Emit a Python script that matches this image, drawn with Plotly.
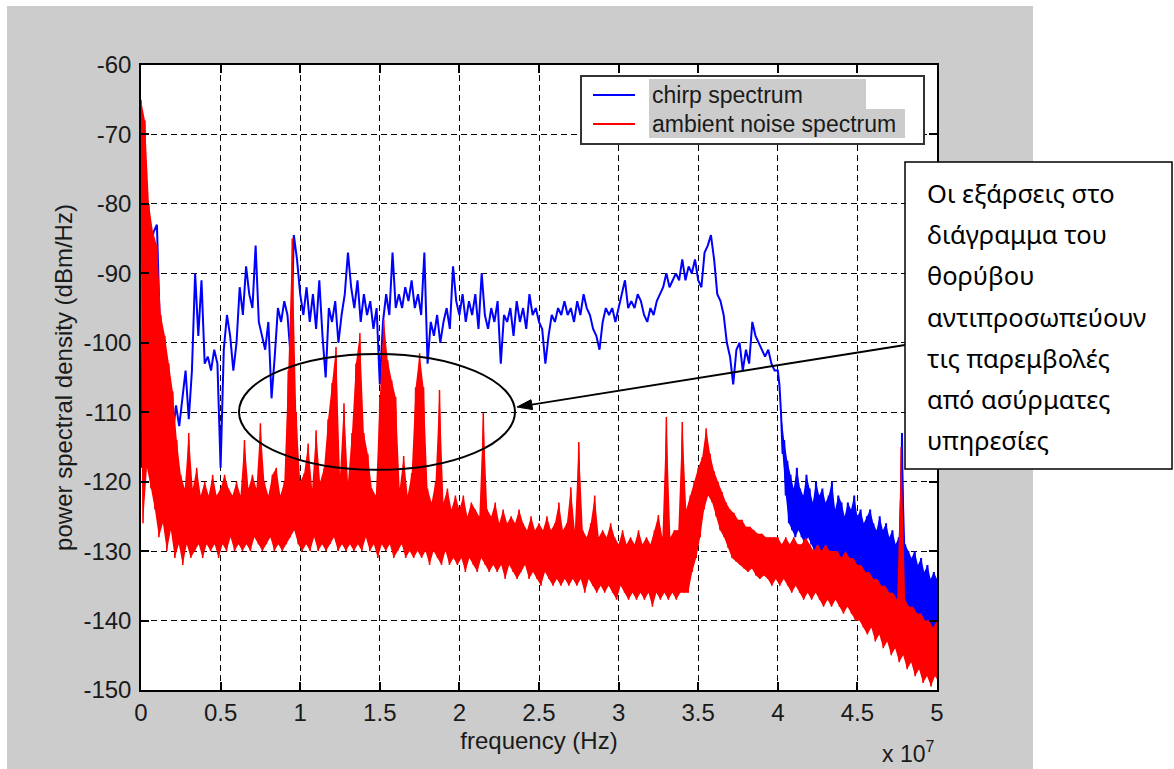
import numpy as np
import plotly.graph_objects as go

# ---------------- data (frequency in units of 1e7 Hz, PSD in dBm/Hz) ----------------
FREQ_UNIT = 1e7
chirp_step = 0.02          # sample spacing of the chirp trace (x 1e7 Hz)
chirp_main = [
    -118, -72, -88, -86, -84, -83, -99, -102, -126, -120,
    -113, -109, -112, -108, -104, -111, -104, -90, -99, -91,
    -103, -102, -104, -101, -103, -118, -101, -96, -99, -104,
    -100, -92, -96, -89, -93, -95, -86, -97, -99, -101,
    -97, -108, -102, -95, -97, -94, -96, -102, -84.5, -88,
    -93, -96, -92, -97, -93, -98, -91, -99, -105, -95,
    -97, -94, -100, -96, -93, -87, -92, -95, -91, -97,
    -93, -96, -94, -98, -95, -106, -97, -93, -96, -87,
    -95, -93, -95, -92, -94, -91, -95, -93, -96, -87,
    -103, -97, -99, -96, -100, -97, -95, -98, -89, -94,
    -96, -93, -97, -94, -96, -93, -98, -90, -96, -98,
    -95, -97, -94, -103, -96, -97, -95, -99, -94, -97,
    -95, -98, -93, -96, -95, -97, -98, -103, -99, -96,
    -97, -95, -96, -94, -96, -95, -97, -94, -96, -93,
    -95, -96, -98, -99, -101, -97, -95, -96, -95, -97,
    -95, -93, -91, -95, -94, -95, -93, -94, -96, -97,
    -95, -96, -94, -93, -92, -90, -92, -91, -90, -91,
    -88, -91, -89, -90, -88, -91, -92, -87, -86, -84.5,
    -88, -93, -94, -96, -100, -102, -106, -101, -100, -104,
    -101, -103, -97, -99, -100, -101, -102, -101, -103, -104,
]
chirp_tail_start = 4.0     # noisy part of the chirp spectrum (upper / lower envelope)
chirp_tail_upper = [
    -104, -110, -114, -117, -119, -121, -118, -121, -122, -119,
    -121, -123, -120, -122, -121, -123, -122, -120, -124, -122,
    -123, -125, -123, -124, -122, -125, -124, -126, -125, -124,
    -126, -127, -125, -127, -126, -128, -127, -129, -128, -113,
    -129, -130, -131, -130, -132, -131, -133, -132, -134, -133,
    -134,
]
chirp_tail_lower = [
    -106, -116, -122, -126, -127, -128, -127, -128, -129, -128,
    -129, -130, -129, -130, -131, -130, -131, -132, -131, -132,
    -133, -132, -133, -134, -133, -134, -135, -134, -135, -136,
    -135, -136, -137, -136, -137, -138, -137, -138, -139, -138,
    -139, -140, -139, -140, -141, -140, -141, -142, -141, -142,
    -141,
]

noise_step = 0.025         # sample spacing of the ambient-noise envelopes (x 1e7 Hz)
noise_upper = [
    -65, -68, -80, -84, -86, -96, -99, -103, -107, -114,
    -119, -121, -113, -121, -118, -122, -120, -122, -119, -122,
    -121, -119, -121, -122, -120, -122, -114, -121, -119, -121,
    -111.6, -120, -122, -119, -118, -122, -120, -104, -85, -110,
    -120, -118.8, -114.5, -121, -112.6, -120, -118, -111, -105.8, -100.6,
    -119, -108.7, -120, -113, -103, -98.6, -113, -116, -121, -122,
    -107.8, -96.7, -102.5, -105.4, -107.8, -121, -116.3, -122, -118.8, -106.4,
    -101.5, -106.4, -121, -123, -120, -106.8, -123, -121, -124, -122,
    -124, -122, -125, -123, -124, -125, -110.1, -124, -125, -123,
    -126, -124, -126, -125, -126, -124, -126, -127, -125, -127,
    -126, -127, -125, -127, -126, -123, -127, -126, -120.8, -127,
    -114.3, -127, -128, -126, -122, -128, -127, -128, -126, -128,
    -129, -127, -129, -128, -129, -127, -129, -128, -129, -127,
    -124.8, -128, -110.7, -128, -127, -127, -111.4, -124, -122, -120,
    -118, -116.5, -112.3, -116, -118.5, -120, -121.5, -123, -124, -124.5,
    -125.5, -125.5, -126.5, -126.5, -127, -127.5, -127.5, -128, -128, -128,
    -128, -129, -128, -129, -128, -129, -129, -128, -129, -130,
    -129, -130, -129, -130, -130, -130, -131, -130, -131, -131,
    -132, -132, -133, -133, -134, -134, -135, -135, -136, -136,
    -137, -115, -137, -138, -138, -139, -139, -140, -140, -141,
    -140,
]
noise_lower = [
    -126, -118, -121, -124, -128, -126, -130, -127, -131, -129,
    -132, -129, -131, -130, -129, -131, -129, -130, -129, -131,
    -129, -130, -128, -130, -129, -130, -129, -130, -128, -129,
    -130, -129, -128, -130, -129, -130, -129, -128, -127, -129,
    -130, -129, -130, -128, -130, -129, -130, -129, -128, -130,
    -129, -130, -129, -130, -129, -130, -128, -130, -129, -131,
    -129, -130, -129, -131, -130, -129, -131, -130, -131, -130,
    -131, -130, -132, -130, -131, -132, -130, -132, -131, -132,
    -131, -133, -131, -132, -133, -131, -132, -133, -132, -133,
    -132, -134, -132, -133, -134, -133, -132, -134, -133, -134,
    -135, -133, -134, -135, -134, -135, -134, -135, -134, -135,
    -134, -136, -134, -135, -136, -135, -136, -135, -136, -137,
    -135, -136, -137, -136, -137, -136, -137, -136, -138, -136,
    -137, -136, -137, -136, -137, -136, -136, -136, -133, -131,
    -128, -124, -122, -123, -125, -127, -128, -129.5, -131, -131.5,
    -132, -132.5, -133, -132.5, -133.5, -134, -133.5, -134, -135, -134,
    -135, -134, -135, -136, -135, -136, -137, -136, -137, -136,
    -137, -138, -137, -138, -137, -138, -139, -138, -139, -140,
    -140, -141, -142, -141, -143, -142, -144, -143, -145, -144,
    -146, -145, -147, -146, -148, -147, -149, -148, -149.5, -148,
    -149,
]

x_ticks = [0, 0.5, 1, 1.5, 2, 2.5, 3, 3.5, 4, 4.5, 5]
x_tick_labels = ["0", "0.5", "1", "1.5", "2", "2.5", "3", "3.5", "4", "4.5", "5"]
y_ticks = [-150, -140, -130, -120, -110, -100, -90, -80, -70, -60]
y_tick_labels = ["-150", "-140", "-130", "-120", "-110", "-100", "-90", "-80", "-70", "-60"]
series_names = ["chirp spectrum", "ambient noise spectrum"]
note_lines = [
    "Οι εξάρσεις στο",
    "διάγραμμα του",
    "θορύβου",
    "αντιπροσωπεύουν",
    "τις παρεμβολές",
    "από ασύρματες",
    "υπηρεσίες",
]

BLUE, RED = "#0000ff", "#ff0000"
series_colors = [BLUE, RED]

# ---------------- build traces ----------------
chirp_x = [i * chirp_step for i in range(len(chirp_main))]
chirp_y = list(chirp_main)
tail_up_x, tail_lo_x = [], []
for k, (u, l) in enumerate(zip(chirp_tail_upper, chirp_tail_lower)):
    x0 = chirp_tail_start + k * chirp_step
    tail_up_x.append(x0)
    tail_lo_x.append(x0 + chirp_step / 2)
    chirp_x += [x0, x0 + chirp_step / 2]
    chirp_y += [u, l]
chirp_x = np.array(chirp_x) * FREQ_UNIT
n_tail = min(len(chirp_tail_upper), len(chirp_tail_lower))
tail_fill_x = np.array(tail_up_x + tail_lo_x[::-1] + [tail_up_x[0]]) * FREQ_UNIT
tail_fill_y = (list(chirp_tail_upper[:n_tail]) + list(chirp_tail_lower[:n_tail])[::-1]
               + [chirp_tail_upper[0]])

noise_x, noise_y = [], []
noise_up_x, noise_lo_x = [], []
for j, (u, l) in enumerate(zip(noise_upper, noise_lower)):
    x0 = j * noise_step
    noise_up_x.append(x0)
    noise_lo_x.append(x0 + noise_step / 2)
    noise_x += [x0, x0 + noise_step / 2]
    noise_y += [u, l]
noise_x = np.array(noise_x) * FREQ_UNIT
n_noise = min(len(noise_upper), len(noise_lower))
noise_fill_x = np.array(noise_up_x + noise_lo_x[::-1] + [noise_up_x[0]]) * FREQ_UNIT
noise_fill_y = (list(noise_upper[:n_noise]) + list(noise_lower[:n_noise])[::-1]
                + [noise_upper[0]])

# ---------------- layout geometry (pixels) ----------------
W, H = 1174, 769
PL, PR, PT, PB = 141, 937, 65, 690


def px2x(px):
    return (px - PL) / (PR - PL)


def py2y(py):
    return (PB - py) / (PB - PT)


FONT = "Liberation Sans, Arial, sans-serif"
TXT = "#1a1a1a"

fig = go.Figure()
fig.add_trace(go.Scatter(x=chirp_x, y=chirp_y, mode="lines", name=series_names[0],
                         line=dict(color=BLUE, width=2)))
fig.add_trace(go.Scatter(x=noise_x, y=noise_y, mode="lines", name=series_names[1],
                         line=dict(color=RED, width=1.5)))
fig.add_trace(go.Scatter(x=tail_fill_x, y=tail_fill_y, mode="none", fill="toself", fillcolor=BLUE,
                         name=series_names[0], hoverinfo="skip"))
fig.add_trace(go.Scatter(x=noise_fill_x, y=noise_fill_y, mode="none", fill="toself", fillcolor=RED,
                         name=series_names[1], hoverinfo="skip"))

axis_common = dict(
    showgrid=True, gridcolor="black", gridwidth=1, griddash="6px,4px",
    zeroline=False, showline=True, linecolor="black", linewidth=1.5,
    mirror="ticks", ticks="inside", ticklen=8, tickwidth=1.5, tickcolor="black",
    tickfont=dict(family=FONT, size=24, color=TXT),
)

fig.update_layout(
    width=W, height=H,
    margin=dict(l=PL, r=W - PR, t=PT, b=H - PB, pad=0),
    paper_bgcolor="white", plot_bgcolor="white",
    showlegend=False,
    xaxis=dict(range=[0, 5 * FREQ_UNIT], tickvals=[v * FREQ_UNIT for v in x_ticks],
               ticktext=x_tick_labels, ticklabelstandoff=0,
               title=dict(text="frequency (Hz)", font=dict(family=FONT, size=24, color=TXT), standoff=8),
               **axis_common),
    yaxis=dict(range=[-150, -60], tickvals=y_ticks, ticktext=y_tick_labels, ticklabelstandoff=3,
               title=dict(text="power spectral density (dBm/Hz)", font=dict(family=FONT, size=24, color=TXT),
                          standoff=4),
               **axis_common),
)

# arrow geometry (pixels): tail on the callout box, tip at the ellipse
tail_px, tip_px = (905, 345), (517, 407)
dx, dy = tail_px[0] - tip_px[0], tail_px[1] - tip_px[1]
ln = (dx * dx + dy * dy) ** 0.5
ux, uy = dx / ln, dy / ln
nx, ny = -uy, ux
head_len, head_half = 15, 5
bx, by = tip_px[0] + head_len * ux, tip_px[1] + head_len * uy
head_path = "M {:.5f} {:.5f} L {:.5f} {:.5f} L {:.5f} {:.5f} Z".format(
    px2x(tip_px[0]), py2y(tip_px[1]),
    px2x(bx + head_half * nx), py2y(by + head_half * ny),
    px2x(bx - head_half * nx), py2y(by - head_half * ny))

# legend geometry (pixels)
leg_rows_y = [95, 124]
leg_line_x = (593, 635)
leg_text_x = 650
leg_hilite = [(649, 866, 79, 109), (649, 905, 109, 138)]

shapes = [
    # MATLAB grey figure background
    dict(type="rect", xref="paper", yref="paper", x0=px2x(7), x1=px2x(1033), y0=py2y(780), y1=py2y(6),
         fillcolor="#cccccc", line=dict(width=0), layer="below"),
    # white axes background
    dict(type="rect", xref="paper", yref="paper", x0=0, x1=1, y0=0, y1=1,
         fillcolor="white", line=dict(width=0), layer="below"),
    # legend box
    dict(type="rect", xref="paper", yref="paper", x0=px2x(581), x1=px2x(924), y0=py2y(144), y1=py2y(76),
         fillcolor="white", line=dict(color="#333333", width=2), layer="above"),
]
for (hx0, hx1, hy0, hy1) in leg_hilite:
    shapes.append(dict(type="rect", xref="paper", yref="paper", x0=px2x(hx0), x1=px2x(hx1),
                       y0=py2y(hy1), y1=py2y(hy0), fillcolor="#cccccc", line=dict(width=0), layer="above"))
for ry, col in zip(leg_rows_y, series_colors):
    shapes.append(dict(type="line", xref="paper", yref="paper", x0=px2x(leg_line_x[0]), x1=px2x(leg_line_x[1]),
                       y0=py2y(ry), y1=py2y(ry), line=dict(color=col, width=2), layer="above"))
shapes += [
    # ellipse around the interference peaks
    dict(type="circle", xref="x", yref="y", x0=0.6156 * FREQ_UNIT, x1=2.349 * FREQ_UNIT, y0=-118.3, y1=-101.6,
         line=dict(color="black", width=2), layer="above"),
    # callout box
    dict(type="rect", xref="paper", yref="paper", x0=px2x(905), x1=px2x(1172), y0=py2y(469), y1=py2y(162),
         fillcolor="white", line=dict(color="black", width=1.5), layer="above"),
    # arrow from callout to ellipse
    dict(type="line", xref="paper", yref="paper", x0=px2x(tail_px[0]), y0=py2y(tail_px[1]),
         x1=px2x(bx), y1=py2y(by), line=dict(color="black", width=2), layer="above"),
    dict(type="path", xref="paper", yref="paper", path=head_path, fillcolor="black",
         line=dict(color="black", width=1), layer="above"),
]
fig.update_layout(shapes=shapes)

annotations = []
for ry, name in zip(leg_rows_y, series_names):
    annotations.append(dict(text=name, xref="paper", yref="paper", x=px2x(leg_text_x), y=py2y(ry),
                            xanchor="left", yanchor="middle", showarrow=False,
                            font=dict(family=FONT, size=23, color=TXT)))
line_y0, line_dy = 193, 41.2
for k, t in enumerate(note_lines):
    annotations.append(dict(text=t, xref="paper", yref="paper", x=px2x(925), y=py2y(line_y0 + k * line_dy),
                            xanchor="left", yanchor="middle", showarrow=False,
                            font=dict(family="Noto Sans, sans-serif", size=25.5, color="black")))
annotations.append(dict(text="x 10<sup>7</sup>", xref="paper", yref="paper", x=px2x(908), y=py2y(752),
                        xanchor="center", yanchor="middle", showarrow=False,
                        font=dict(family=FONT, size=23, color=TXT)))
fig.update_layout(annotations=annotations)

fig.write_html("out.html")
